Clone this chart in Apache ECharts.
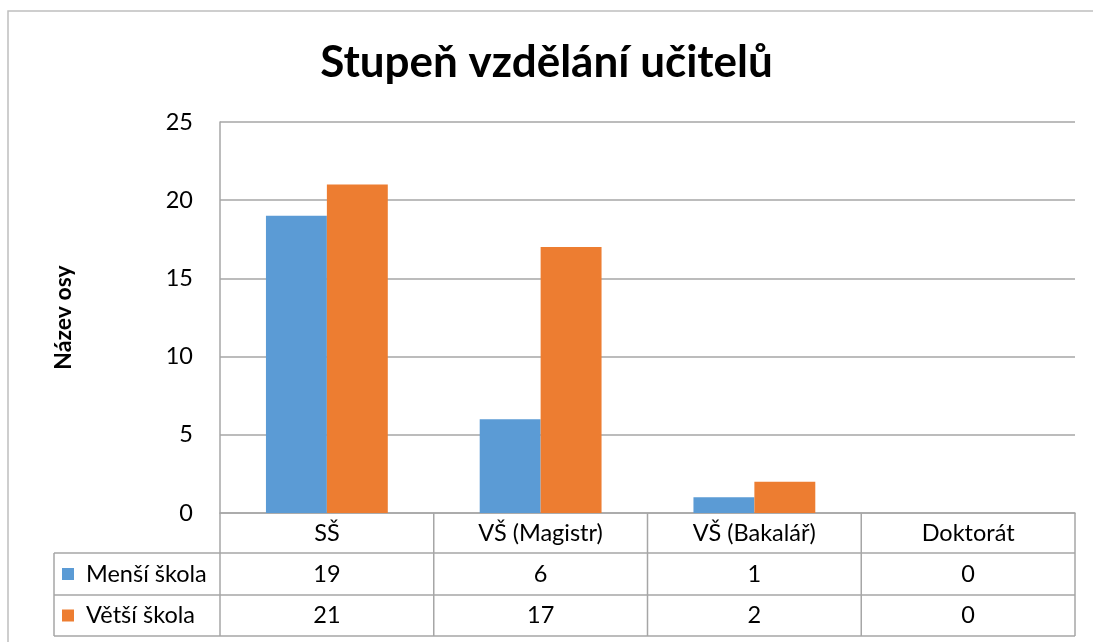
<!DOCTYPE html>
<html>
<head>
<meta charset="utf-8">
<script src="https://cdn.jsdelivr.net/npm/echarts@6/dist/echarts.min.js"></script>
<style>
  html, body { margin: 0; padding: 0; background: #fff; }
  #chart { width: 1093px; height: 642px; }
</style>
</head>
<body>
<div id="chart"></div>
<script>
const categories = ['SŠ', 'VŠ (Magistr)', 'VŠ (Bakalář)', 'Doktorát']
const seriesNames = ['Menší škola', 'Větší škola']
const mensiSkola = [19, 6, 1, 0]
const vetsiSkola = [21, 17, 2, 0]
const colors = ['#5B9BD5', '#ED7D31']

const FONT = 'Lato'
const W = 1093, H = 642
const plotLeft = 220, plotRight = 1075, plotTop = 122, plotBottom = 513
const tableLeft = 54
const rowLines = [553, 595, 636]
const lineColor = '#a6a6a6'

const chart = echarts.init(document.getElementById('chart'))

// data table below the plot, laid out from the grid edges
function tableGraphics() {
  const out = []
  const colW = (plotRight - plotLeft) / categories.length
  rowLines.forEach(y => {
    out.push({ type: 'line', shape: { x1: tableLeft, y1: y, x2: plotRight, y2: y }, style: { stroke: lineColor, lineWidth: 1.5 } })
  })
  out.push({ type: 'line', shape: { x1: tableLeft, y1: rowLines[0], x2: tableLeft, y2: rowLines[2] }, style: { stroke: lineColor, lineWidth: 1.5 } })
  for (let i = 0; i <= categories.length; i++) {
    const x = plotLeft + i * colW
    out.push({ type: 'line', shape: { x1: x, y1: plotBottom, x2: x, y2: rowLines[2] }, style: { stroke: lineColor, lineWidth: 1.5 } })
  }
  const rows = [mensiSkola, vetsiSkola]
  rows.forEach((vals, r) => {
    const cy = (rowLines[r] + rowLines[r + 1]) / 2
    out.push({ type: 'rect', shape: { x: 62, y: cy - 6, width: 12, height: 12 }, style: { fill: colors[r] } })
    out.push({ type: 'text', style: { x: 86, y: cy, text: seriesNames[r], fontFamily: FONT, fontSize: 23.5, fill: '#000', verticalAlign: 'middle' } })
    vals.forEach((v, i) => {
      out.push({ type: 'text', style: { x: plotLeft + (i + 0.5) * colW, y: cy, text: String(v), fontFamily: FONT, fontSize: 23.5, fill: '#000', align: 'center', verticalAlign: 'middle' } })
    })
  })
  // outer chart border
  out.push({ type: 'polyline', shape: { points: [[8, H + 2], [8, 11], [W + 2, 11]] }, style: { stroke: '#bfbfbf', lineWidth: 1.5, fill: null } })
  return out
}

chart.setOption({
  backgroundColor: '#fff',
  animation: false,
  title: {
    text: 'Stupeň vzdělání učitelů',
    left: 'center',
    top: 36,
    textStyle: { fontFamily: FONT, fontSize: 44, fontWeight: 'bold', color: '#000' }
  },
  grid: { left: plotLeft, right: W - plotRight, top: plotTop, bottom: H - plotBottom },
  xAxis: {
    type: 'category',
    data: categories,
    axisLine: { lineStyle: { color: lineColor, width: 1.5 } },
    axisTick: { show: false },
    axisLabel: { fontFamily: FONT, fontSize: 23.5, color: '#000', margin: 8, interval: 0 }
  },
  yAxis: {
    type: 'value',
    min: 0, max: 25, interval: 5,
    name: 'Název osy',
    nameLocation: 'middle',
    nameRotate: 90,
    nameGap: 145,
    nameTextStyle: { fontFamily: FONT, fontSize: 23, fontWeight: 'bold', color: '#000' },
    axisLine: { show: true, lineStyle: { color: lineColor, width: 1.5 } },
    axisTick: { show: false },
    axisLabel: { fontFamily: FONT, fontSize: 23.5, color: '#000', margin: 27 },
    splitLine: { lineStyle: { color: lineColor, width: 1.5 } }
  },
  series: [
    { name: seriesNames[0], type: 'bar', data: mensiSkola, itemStyle: { color: colors[0] }, barGap: 0, barCategoryGap: '43%' },
    { name: seriesNames[1], type: 'bar', data: vetsiSkola, itemStyle: { color: colors[1] }, barGap: 0, barCategoryGap: '43%' }
  ],
  graphic: tableGraphics()
})
</script>
</body>
</html>
